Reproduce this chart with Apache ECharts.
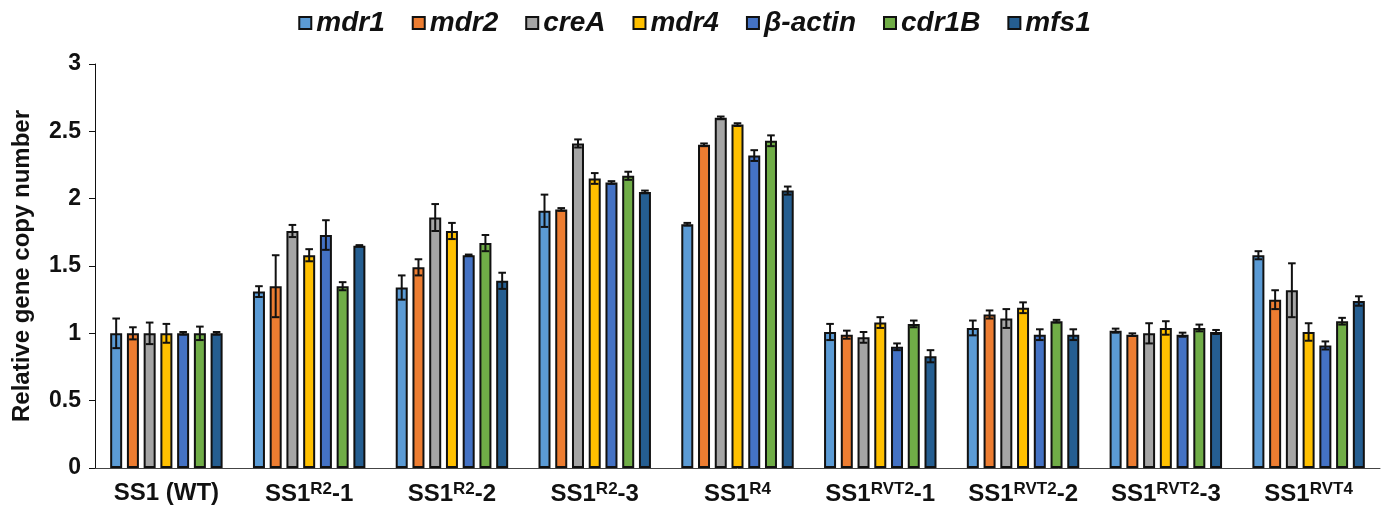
<!DOCTYPE html>
<html>
<head>
<meta charset="utf-8">
<script src="https://cdn.jsdelivr.net/npm/echarts@6/dist/echarts.min.js"></script>
<style>
  html, body { margin: 0; padding: 0; background: #fff; }
  #main { width: 1389px; height: 508px; }
</style>
</head>
<body>
<div id="main"></div>
<script>
// ---- data ----
var categories = ['SS1 (WT)', 'SS1{sup|R2}-1', 'SS1{sup|R2}-2', 'SS1{sup|R2}-3', 'SS1{sup|R4}',
    'SS1{sup|RVT2}-1', 'SS1{sup|RVT2}-2', 'SS1{sup|RVT2}-3', 'SS1{sup|RVT4}'];
var genes = ['mdr1', 'mdr2', 'creA', 'mdr4', 'β-actin', 'cdr1B', 'mfs1'];

var mdr1 = [1.00, 1.31, 1.34, 1.91, 1.81, 1.01, 1.04, 1.02, 1.58];
var mdr2 = [1.00, 1.35, 1.49, 1.92, 2.40, 0.99, 1.14, 0.99, 1.25];
var creA = [1.00, 1.76, 1.86, 2.41, 2.60, 0.97, 1.11, 1.00, 1.32];
var mdr4 = [1.00, 1.58, 1.76, 2.15, 2.55, 1.08, 1.19, 1.04, 1.01];
var bActin = [1.00, 1.73, 1.58, 2.12, 2.32, 0.90, 0.99, 0.99, 0.91];
var cdr1B = [1.00, 1.35, 1.67, 2.17, 2.43, 1.07, 1.09, 1.04, 1.09];
var mfs1 = [1.00, 1.65, 1.39, 2.05, 2.06, 0.83, 0.99, 1.01, 1.24];

var mdr1Err = [0.11, 0.04, 0.09, 0.12, 0.01, 0.06, 0.055, 0.015, 0.03];
var mdr2Err = [0.045, 0.23, 0.06, 0.01, 0.01, 0.03, 0.03, 0.01, 0.07];
var creAErr = [0.08, 0.045, 0.10, 0.03, 0.01, 0.04, 0.07, 0.075, 0.20];
var mdr4Err = [0.07, 0.045, 0.06, 0.04, 0.01, 0.04, 0.04, 0.05, 0.065];
var bActinErr = [0.01, 0.11, 0.005, 0.01, 0.04, 0.025, 0.04, 0.015, 0.03];
var cdr1BErr = [0.05, 0.03, 0.06, 0.03, 0.04, 0.025, 0.01, 0.025, 0.025];
var mfs1Err = [0.01, 0.005, 0.06, 0.01, 0.03, 0.045, 0.04, 0.015, 0.035];

var yTicks = [0, 0.5, 1, 1.5, 2, 2.5, 3];

var values = [mdr1, mdr2, creA, mdr4, bActin, cdr1B, mfs1];
var errors = [mdr1Err, mdr2Err, creAErr, mdr4Err, bActinErr, cdr1BErr, mfs1Err];
var colors = ['#5B9BD5', '#ED7D31', '#A5A5A5', '#FFC000', '#4472C4', '#70AD47', '#255E91'];

var FONT = '"Liberation Sans", Arial, sans-serif';
var barW = 12;
var barGapPct = 0.395;
var pitch = barW * (1 + barGapPct);

/* ---------- error bars ---------- */
function makeErrRender(idx) {
    var offset = (idx - (genes.length - 1) / 2) * pitch;
    return function (params, api) {
        var ci = api.value(0), v = api.value(1), e = api.value(2);
        var hi = api.coord([ci, v + e]);
        var lo = api.coord([ci, v - e]);
        var x = hi[0] + offset;
        var cap = 3.8;
        var st = { stroke: '#111', lineWidth: 2 };
        return {
            type: 'group',
            children: [
                { type: 'line', shape: { x1: x, y1: hi[1], x2: x, y2: lo[1] }, style: st },
                { type: 'line', shape: { x1: x - cap, y1: hi[1], x2: x + cap, y2: hi[1] }, style: st },
                { type: 'line', shape: { x1: x - cap, y1: lo[1], x2: x + cap, y2: lo[1] }, style: st }
            ]
        };
    };
}

var series = [];
genes.forEach(function (g, i) {
    series.push({
        name: g,
        type: 'bar',
        data: values[i],
        barWidth: barW,
        barGap: (barGapPct * 100) + '%',
        itemStyle: { color: colors[i], borderColor: '#111', borderWidth: 2 },
        emphasis: { disabled: true }
    });
});
genes.forEach(function (g, i) {
    series.push({
        type: 'custom',
        renderItem: makeErrRender(i),
        data: values[i].map(function (v, k) { return [k, v, errors[i][k]]; }),
        z: 10,
        silent: true
    });
});

var chart = echarts.init(document.getElementById('main'));

var option = {
    animation: false,
    textStyle: { fontFamily: FONT },
    legend: {
        data: genes,
        top: 4,
        left: 'center',
        itemWidth: 12,
        itemHeight: 12,
        itemGap: 27,
        icon: 'rect',
        textStyle: { fontSize: 28, fontWeight: 'bold', fontStyle: 'italic', color: '#111', fontFamily: FONT }
    },
    grid: { left: 95, right: 9, top: 64, bottom: 40, outerBoundsMode: 'none' },
    xAxis: {
        type: 'category',
        data: categories,
        axisLine: { lineStyle: { color: '#444', width: 1 } },
        axisTick: { length: 6, lineStyle: { color: '#444' } },
        axisLabel: {
            margin: 13,
            fontSize: 24,
            fontWeight: 'bold',
            color: '#111',
            fontFamily: FONT,
            interval: 0,
            rich: {
                sup: { fontSize: 17, fontWeight: 'bold', color: '#111', fontFamily: FONT, padding: [0, 0, 10, 0] }
            }
        }
    },
    yAxis: {
        type: 'value',
        min: yTicks[0],
        max: yTicks[yTicks.length - 1],
        interval: 0.5,
        name: 'Relative gene copy number',
        nameLocation: 'middle',
        nameGap: 61,
        nameTextStyle: { fontSize: 24, fontWeight: 'bold', color: '#111', fontFamily: FONT },
        axisLine: { show: true, lineStyle: { color: '#111', width: 1 } },
        axisTick: { show: true, length: 6, lineStyle: { color: '#111' } },
        splitLine: { show: false },
        axisLabel: { margin: 14, fontSize: 23, fontWeight: 'bold', color: '#111', fontFamily: FONT }
    },
    series: series
};

chart.setOption(option);
</script>
</body>
</html>
